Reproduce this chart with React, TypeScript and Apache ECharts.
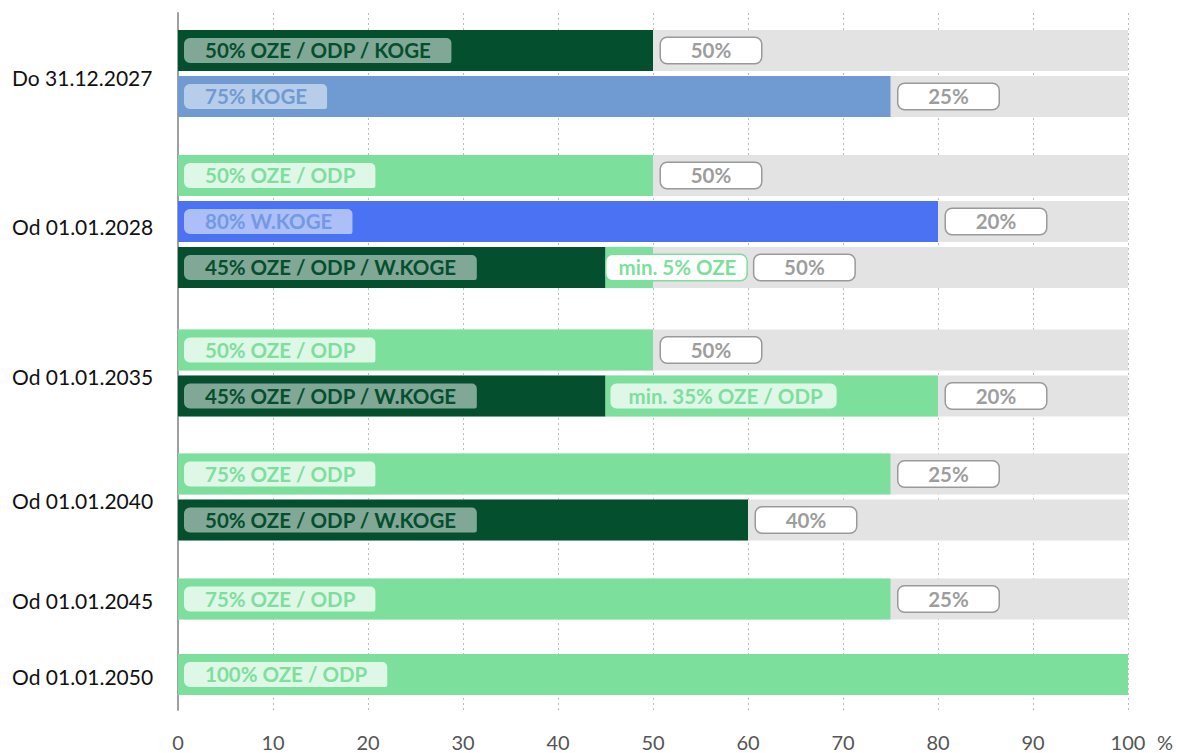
import React, { useEffect, useRef } from "react";
import * as echarts from "echarts";

// ---------- data ----------
const groupLabels = [
  "Do 31.12.2027",
  "Od 01.01.2028",
  "Od 01.01.2035",
  "Od 01.01.2040",
  "Od 01.01.2045",
  "Od 01.01.2050",
];
const rowGroup = [0, 0, 1, 1, 1, 2, 2, 3, 3, 4, 5];
const baseValues = [50, 75, 50, 80, 45, 50, 45, 75, 60, 75, 100];
const baseLabels = [
  "50% OZE / ODP / KOGE",
  "75% KOGE",
  "50% OZE / ODP",
  "80% W.KOGE",
  "45% OZE / ODP / W.KOGE",
  "50% OZE / ODP",
  "45% OZE / ODP / W.KOGE",
  "75% OZE / ODP",
  "50% OZE / ODP / W.KOGE",
  "75% OZE / ODP",
  "100% OZE / ODP",
];
const baseKinds = ["dark", "koge", "light", "wkoge", "dark", "light", "dark", "light", "dark", "light", "light"];
const extraValues = [0, 0, 0, 0, 5, 0, 35, 0, 0, 0, 0];
const extraLabels = ["", "", "", "", "min. 5% OZE", "", "min. 35% OZE / ODP", "", "", "", ""];
const restLabels = ["50%", "25%", "50%", "20%", "50%", "50%", "20%", "25%", "40%", "25%", ""];
const xMin = 0;
const xMax = 100;
const xStep = 10;

// ---------- style / layout ----------
const KIND_STYLE: Record<string, { bar: string; text: string; box: string }> = {
  dark: { bar: "#034f2e", text: "#034f2e", box: "rgba(255,255,255,0.5)" },
  koge: { bar: "#6f9bd2", text: "#6f9bd2", box: "rgba(255,255,255,0.5)" },
  wkoge: { bar: "#4a72f2", text: "#7499e2", box: "rgba(255,255,255,0.55)" },
  light: { bar: "#7ddf9c", text: "#7ddf9c", box: "rgba(255,255,255,0.75)" },
};
const EXTRA_KIND = "light";
const REST_COLOR = "#e3e3e3";
// extra spacing (in row units) between consecutive groups
const GROUP_GAPS = [0.717, 0.793, 0.696, 0.717, 0.641];
const BAR_H = 41;
const FONT = "Lato, 'Noto Sans', sans-serif";
const LABEL_SIZE = 20.5;
const GROUP_LABEL_SHIFT_PER_ROW = 0.04;

const rowPos: number[] = [];
rowGroup.forEach((g, i) => {
  if (i === 0) rowPos.push(0);
  else rowPos.push(rowPos[i - 1] + 1 + (g !== rowGroup[i - 1] ? GROUP_GAPS[g - 1] : 0));
});
const groupLabelPos = groupLabels.map((_, g) => {
  const ps = rowPos.filter((_, i) => rowGroup[i] === g);
  return (Math.min(...ps) + Math.max(...ps)) / 2 + GROUP_LABEL_SHIFT_PER_ROW * ps.length;
});
const Y_MIN = -0.815;
const Y_MAX = 14.337;

let measureCtx: CanvasRenderingContext2D | null = null;
function textWidth(t: string) {
  if (!measureCtx) measureCtx = document.createElement("canvas").getContext("2d");
  measureCtx!.font = `bold ${LABEL_SIZE}px Lato`;
  return measureCtx!.measureText(t).width;
}

export default function App() {
  const ref = useRef<HTMLDivElement>(null);
  useEffect(() => {
    const chart = echarts.init(ref.current!, undefined, { renderer: "svg" });
    const data = rowGroup.map((_, i) => [i, rowPos[i], baseValues[i], extraValues[i]]);
    const renderItem = (params: any, api: any) => {
      const i = api.value(0);
      const pos = api.value(1);
      const base = api.value(2);
      const extra = api.value(3);
      const [x0, yc] = api.coord([0, pos]);
      const x100 = api.coord([100, pos])[0];
      const xb = api.coord([base, pos])[0];
      const xe = api.coord([base + extra, pos])[0];
      const top = yc - BAR_H / 2;
      const ks = KIND_STYLE[baseKinds[i]];
      const es = KIND_STYLE[EXTRA_KIND];
      const children: any[] = [
        { type: "rect", shape: { x: x0, y: top, width: x100 - x0, height: BAR_H }, style: { fill: REST_COLOR } },
        { type: "rect", shape: { x: x0, y: top, width: xb - x0, height: BAR_H }, style: { fill: ks.bar } },
      ];
      if (extra > 0) {
        children.push({ type: "rect", shape: { x: xb, y: top, width: xe - xb, height: BAR_H }, style: { fill: es.bar } });
      }
      children.push({
        type: "text",
        x: x0 + 6,
        y: yc,
        style: {
          text: baseLabels[i],
          fill: ks.text,
          fontSize: LABEL_SIZE,
          fontWeight: "bold",
          fontFamily: FONT,
          align: "left",
          verticalAlign: "middle",
          lineHeight: 19,
          padding: [3, 20, 3, 21],
          backgroundColor: ks.box,
          borderRadius: [6, 5, 2, 6],
        },
      });
      let restStart = xe;
      if (extra > 0 && extraLabels[i]) {
        const w = textWidth(extraLabels[i]);
        const inside = w + 36 + 8 < xe - xb;
        const padL = inside ? 18 : 12;
        const padR = inside ? 14 : 10;
        const lx = xb + (inside ? 5 : 1);
        children.push({
          type: "text",
          x: lx,
          y: yc,
          style: {
            text: extraLabels[i],
            fill: es.text,
            fontSize: LABEL_SIZE,
            fontWeight: "bold",
            fontFamily: FONT,
            align: "left",
            verticalAlign: "middle",
            lineHeight: 19,
            padding: [3, padR, 3, padL],
            backgroundColor: inside ? es.box : "#ffffff",
            borderColor: inside ? undefined : es.bar,
            borderWidth: inside ? 0 : 1.5,
            borderRadius: 6,
          },
        });
        if (!inside) restStart = Math.max(xe, lx + w + padL + padR);
      }
      if (restLabels[i]) {
        children.push({
          type: "text",
          x: restStart + 8 + 50,
          y: yc,
          style: {
            text: restLabels[i],
            fill: "#9d9d9d",
            fontSize: LABEL_SIZE,
            fontWeight: "bold",
            fontFamily: FONT,
            align: "center",
            verticalAlign: "middle",
            lineHeight: 19,
            width: 100,
            padding: [3, 0, 3, 0],
            backgroundColor: "#ffffff",
            borderColor: "#9a9a9a",
            borderWidth: 1.5,
            borderRadius: 6,
          },
        });
      }
      return { type: "group", children };
    };

    chart.setOption({
      animation: false,
      backgroundColor: "#ffffff",
      grid: { left: 178, right: 52, top: 13, bottom: 43, containLabel: false, outerBoundsMode: "none" },
      xAxis: {
        type: "value",
        min: xMin,
        max: xMax,
        interval: xStep,
        axisLine: { show: false, onZero: false },
        axisTick: { show: false },
        splitLine: { show: true, lineStyle: { type: [2, 3], color: "#bdbdbd", width: 1 } },
        axisLabel: { fontSize: 20, color: "#555555", margin: 24, lineHeight: 16, fontFamily: FONT },
        name: "%",
        nameLocation: "end",
        nameGap: 29,
        nameTextStyle: {
          fontSize: 20,
          color: "#555555",
          fontFamily: FONT,
          lineHeight: 16,
          verticalAlign: "top",
          padding: [24, 0, 0, 0],
        },
      },
      yAxis: {
        type: "value",
        inverse: true,
        min: Y_MIN,
        max: Y_MAX,
        splitLine: { show: false },
        axisTick: { show: false },
        axisLine: { show: true, lineStyle: { color: "#a0a0a0", width: 2 } },
        axisLabel: {
          customValues: groupLabelPos,
          formatter: (v: number) => {
            let best = 0;
            groupLabelPos.forEach((c, g) => {
              if (Math.abs(c - v) < Math.abs(groupLabelPos[best] - v)) best = g;
            });
            return groupLabels[best];
          },
          align: "left",
          margin: 166,
          fontSize: 21,
          color: "#111111",
          fontFamily: FONT,
        },
      },
      series: [
        {
          type: "custom",
          coordinateSystem: "cartesian2d",
          renderItem,
          data,
          encode: { x: 2, y: 1 },
          clip: false,
        },
      ],
    });
    return () => chart.dispose();
  }, []);
  return <div ref={ref} style={{ position: "fixed", left: 0, top: 0, width: 1180, height: 753 }} />;
}
